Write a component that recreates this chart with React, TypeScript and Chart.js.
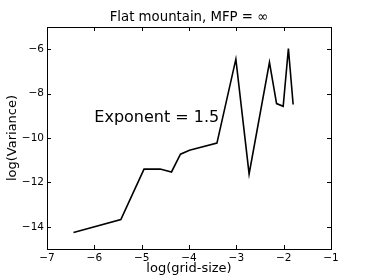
import React, { useEffect, useRef } from "react";
import { Chart, registerables } from "chart.js";

Chart.register(...registerables);

const xValues = [-6.44, -5.44, -4.95, -4.61, -4.37, -4.18, -3.99, -3.41, -3.01, -2.73, -2.30, -2.15, -2.01, -1.90, -1.80];
const yValues = [-14.26, -13.67, -11.4, -11.4, -11.53, -10.73, -10.55, -10.23, -6.45, -11.62, -6.59, -8.45, -8.57, -5.97, -8.49];
const xTicks = [-7, -6, -5, -4, -3, -2, -1];
const yTicks = [-14, -12, -10, -8, -6];
const titleText = "Flat mountain, MFP = \u221e";
const xLabel = "log(grid-size)";
const yLabel = "log(Variance)";
const noteText = "Exponent = 1.5";
const noteX = -6.0;
const noteY = -9.1;

const FONT = "'DejaVu Sans', sans-serif";
const fmt = (v: number) => (v < 0 ? "\u2212" + Math.abs(v) : String(v));

export default function App() {
  const ref = useRef<HTMLCanvasElement | null>(null);
  useEffect(() => {
    const canvas = ref.current;
    if (!canvas) return;
    const framePlugin = {
      id: "frame",
      afterDraw(chart: any) {
        const { ctx, chartArea: a, scales } = chart;
        const xs = scales.x;
        const ys = scales.y;
        ctx.save();
        ctx.strokeStyle = "#000";
        ctx.lineWidth = 1;
        ctx.strokeRect(Math.round(a.left) + 0.5, Math.round(a.top) + 0.5, Math.round(a.right - a.left), Math.round(a.bottom - a.top));
        const tl = 4;
        ctx.beginPath();
        xTicks.forEach((v) => {
          const px = Math.round(xs.getPixelForValue(v)) + 0.5;
          ctx.moveTo(px, a.bottom);
          ctx.lineTo(px, a.bottom - tl);
          ctx.moveTo(px, a.top);
          ctx.lineTo(px, a.top + tl);
        });
        yTicks.forEach((v) => {
          const py = Math.round(ys.getPixelForValue(v)) + 0.5;
          ctx.moveTo(a.left, py);
          ctx.lineTo(a.left + tl, py);
          ctx.moveTo(a.right, py);
          ctx.lineTo(a.right - tl, py);
        });
        ctx.stroke();
        ctx.fillStyle = "#000";
        ctx.font = "13.3px " + FONT;
        ctx.textAlign = "center";
        ctx.textBaseline = "middle";
        ctx.fillText(titleText, (a.left + a.right) / 2, 18);
        ctx.font = "16px " + FONT;
        ctx.textAlign = "left";
        ctx.fillText(noteText, xs.getPixelForValue(noteX), ys.getPixelForValue(noteY));
        ctx.restore();
      },
    };
    const chart = new Chart(canvas, {
      type: "scatter",
      data: {
        datasets: [
          {
            data: xValues.map((x, i) => ({ x, y: yValues[i] })),
            showLine: true,
            borderColor: "#000",
            borderWidth: 1.6,
            pointRadius: 0,
            fill: false,
            tension: 0,
          },
        ],
      },
      options: {
        animation: false,
        responsive: false,
        devicePixelRatio: 1,
        layout: { padding: { top: 27, right: 37, left: 0, bottom: 0 } },
        plugins: { legend: { display: false }, tooltip: { enabled: false }, title: { display: false } },
        scales: {
          x: {
            type: "linear",
            min: -7,
            max: -1,
            afterBuildTicks: (s: any) => {
              s.ticks = xTicks.map((v) => ({ value: v }));
            },
            afterFit: (s: any) => {
              s.height = 28;
            },
            grid: { display: false, drawTicks: false },
            border: { display: false },
            ticks: {
              color: "#000",
              font: { family: FONT, size: 10.5 },
              padding: 3,
              maxRotation: 0,
              callback: (v: any) => fmt(Number(v)),
            },
            title: {
              display: true,
              text: xLabel,
              color: "#000",
              font: { family: FONT, size: 13 },
              padding: { top: 1, bottom: 1 },
            },
          },
          y: {
            type: "linear",
            min: -15,
            max: -5,
            afterBuildTicks: (s: any) => {
              s.ticks = yTicks.map((v) => ({ value: v }));
            },
            afterFit: (s: any) => {
              s.width = 47;
            },
            grid: { display: false, drawTicks: false },
            border: { display: false },
            ticks: {
              color: "#000",
              font: { family: FONT, size: 10.5 },
              padding: 3,
              callback: (v: any) => fmt(Number(v)),
            },
            title: {
              display: true,
              text: yLabel,
              color: "#000",
              font: { family: FONT, size: 13 },
              padding: { top: 5, bottom: 5 },
            },
          },
        },
      },
      plugins: [framePlugin],
    } as any);
    return () => chart.destroy();
  }, []);
  return (
    <div style={{ position: "absolute", left: 0, top: 0, width: 368, height: 277, background: "#fff" }}>
      <canvas ref={ref} width={368} height={277} style={{ display: "block", width: 368, height: 277 }} />
    </div>
  );
}
